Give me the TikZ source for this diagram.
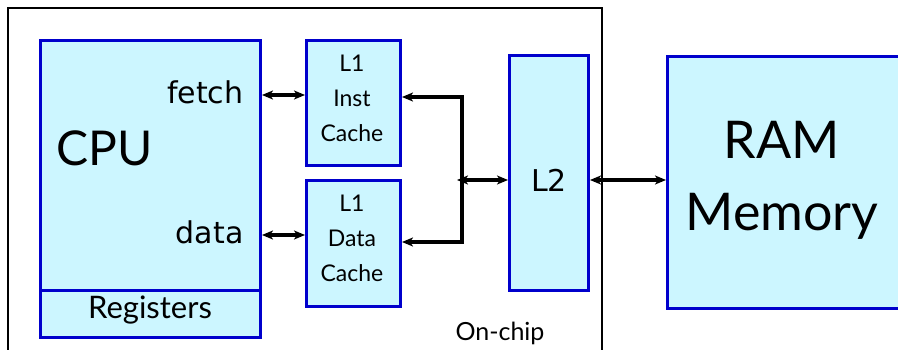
\documentclass[tikz,border=0pt]{standalone}
\usepackage{fontspec}
\setmainfont{Lato}
\newfontfamily\dvs{DejaVu Sans}
\usetikzlibrary{arrows.meta}
\definecolor{boxfill}{RGB}{204,246,255}
\definecolor{boxline}{RGB}{0,0,204}
\tikzset{
  unit/.style={draw=boxline, fill=boxfill, line width=3pt, anchor=north west, inner sep=0pt, align=center},
  link/.style={line width=3.2pt, {Stealth[length=11pt,width=9pt,inset=3pt]}-{Stealth[length=11pt,width=9pt,inset=3pt]}},
  fs/.style 2 args={font=\fontsize{#1}{#2}\selectfont}
}
\begin{document}
\begin{tikzpicture}[x=1pt,y=-1pt]
\useasboundingbox (0,0) rectangle (898,350);
% on-chip region
\draw[line width=2.6pt] (8,360) -- (8,8) -- (602,8) -- (602,360);
\node[fs={25}{30}] (onchip) at (500,333) {On-chip};
% CPU
\node[unit, minimum width=220pt, minimum height=250pt] (cpu) at (39,39) {};
\node[unit, minimum width=220pt, minimum height=47pt] (reg) at (39,289) {};
\node[fs={31}{36}] (regt) at (150,310) {Registers};
\node[fs={48}{54}] (cput) at (105,148) {CPU};
\node[anchor=east, font=\dvs\fontsize{30}{34}\selectfont] (fetch) at (247,92) {fetch};
\node[anchor=east, font=\dvs\fontsize{30}{34}\selectfont] (data) at (247,232) {data};
% L1 caches
\node[unit, minimum width=94pt, minimum height=125pt] (l1i) at (305,39) {};
\node[unit, minimum width=94pt, minimum height=126pt] (l1d) at (305,179) {};
\node[fs={23}{35}, align=center] (l1it) at (352,98) {L1\\Inst\\Cache};
\node[fs={23}{35}, align=center] (l1dt) at (352,238) {L1\\Data\\Cache};
% L2
\node[unit, minimum width=79pt, minimum height=235pt] (l2) at (508,54) {};
\node[font=\dvs\fontsize{30}{34}\selectfont] (l2t) at (549,180) {L2};
% RAM
\node[unit, minimum width=240pt, minimum height=252pt] (ram) at (666,55) {};
\node[fs={52}{72}, align=center] (ramt) at (782,180) {RAM\\Memory};
% connectors
\coordinate (fa) at (cpu.east |- 0,95);
\coordinate (fb) at (l1i.west |- 0,95);
\coordinate (da) at (cpu.east |- 0,235);
\coordinate (db) at (l1d.west |- 0,235);
\coordinate (ie) at (l1i.east |- 0,97);
\coordinate (de) at (l1d.east |- 0,242);
\coordinate (bus) at (462,180);
\coordinate (busl) at (457,180);
\coordinate (l2w) at (l2.west |- 0,180);
\coordinate (l2e) at (l2.east |- 0,180);
\coordinate (ramw) at (ram.west |- 0,180);
\draw[link] (fa) -- (fb);
\draw[link] (da) -- (db);
\draw[link] (ie) -| (bus) |- (de);
\draw[link] (busl) -- (l2w);
\draw[link] (l2e) -- (ramw);
\end{tikzpicture}
\end{document}
